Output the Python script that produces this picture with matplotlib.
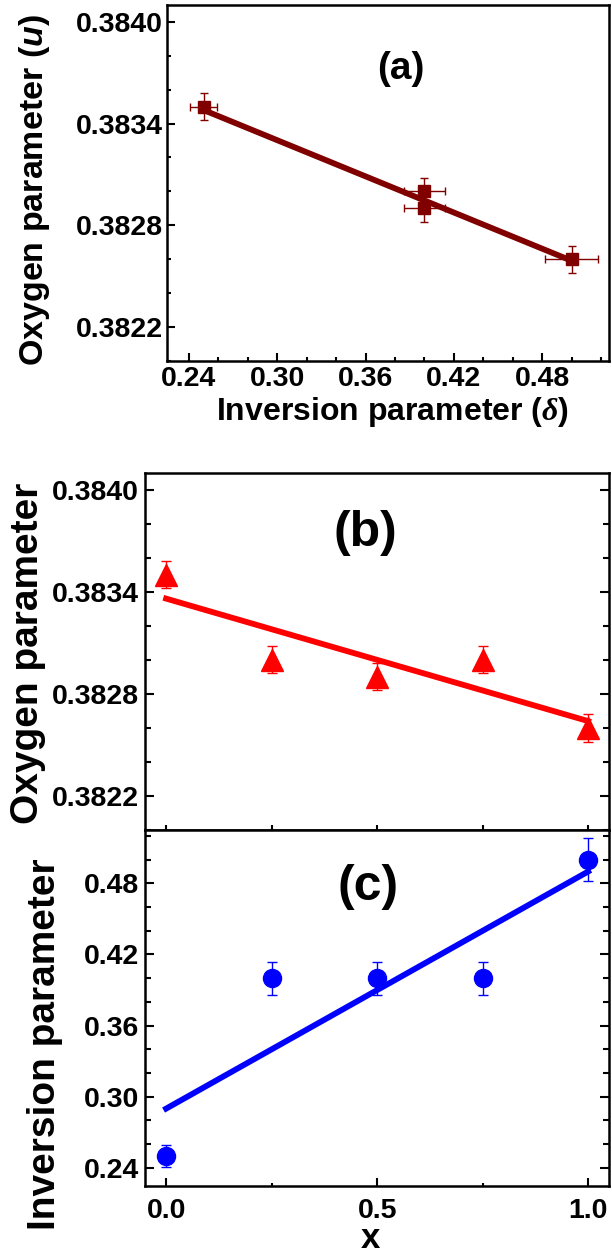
import matplotlib
matplotlib.use("Agg")
import matplotlib.pyplot as plt
from matplotlib.ticker import MultipleLocator, FixedLocator, FormatStrFormatter, NullFormatter

plt.rcParams['font.family'] = ['Liberation Sans', 'DejaVu Sans']
plt.rcParams['font.weight'] = 'bold'
plt.rcParams['mathtext.fontset'] = 'custom'
plt.rcParams['mathtext.it'] = 'Liberation Sans:italic:bold'
plt.rcParams['mathtext.sf'] = 'Liberation Serif:italic'
plt.rcParams['mathtext.rm'] = 'Liberation Sans:bold'

# ---- data ----
# panel (a): oxygen parameter vs inversion parameter
delta_a = [0.25, 0.40, 0.40, 0.50]
delta_err_a = [0.009, 0.014, 0.014, 0.018]
u_a = [0.38350, 0.38300, 0.38290, 0.38260]
u_err_a = [0.00008, 0.00008, 0.00008, 0.00008]
fit_delta_a = [0.25, 0.50]
fit_u_a = [0.38348, 0.38259]

# panel (b): oxygen parameter vs x
x_vals = [0.0, 0.25, 0.5, 0.75, 1.0]
u_b = [0.38350, 0.38300, 0.38290, 0.38300, 0.38260]
u_err_b = [0.00008, 0.00008, 0.00008, 0.00008, 0.00008]
fit_x = [0.0, 1.0]
fit_u_b = [0.38336, 0.38264]

# panel (c): inversion parameter vs x
delta_c = [0.25, 0.40, 0.40, 0.40, 0.50]
delta_err_c = [0.009, 0.014, 0.014, 0.014, 0.018]
fit_delta_c = [0.290, 0.490]

W, H = 612, 1256
fig = plt.figure(figsize=(W / 100, H / 100), dpi=100)

def add_ax(left, top, right, bottom):
    return fig.add_axes([left / W, 1 - bottom / H, (right - left) / W, (bottom - top) / H])

ax_a = add_ax(166.7, 5, 608.5, 360.7)
ax_b = add_ax(145, 472.7, 609.3, 830)
ax_c = add_ax(145, 830, 609.3, 1185.7)

for ax in (ax_a, ax_b, ax_c):
    for s in ax.spines.values():
        s.set_linewidth(1.8)

TICK_FS = 20.5

# ---- (a) ----
ax_a.plot(fit_delta_a, fit_u_a, color='#800000', lw=4.2, zorder=2)
ax_a.errorbar(delta_a, u_a, xerr=delta_err_a, yerr=u_err_a, fmt='s', color='#800000',
              ms=9, elinewidth=1.0, capsize=3, capthick=1.0, zorder=3)
ax_a.set_xlim(0.225, 0.525)
ax_a.set_ylim(0.3820, 0.3841)
ax_a.xaxis.set_major_locator(FixedLocator([0.24, 0.30, 0.36, 0.42, 0.48]))
ax_a.xaxis.set_minor_locator(MultipleLocator(0.02))
ax_a.xaxis.set_major_formatter(FormatStrFormatter('%.2f'))
ax_a.yaxis.set_major_locator(FixedLocator([0.3822, 0.3828, 0.3834, 0.3840]))
ax_a.yaxis.set_minor_locator(MultipleLocator(0.0002))
ax_a.yaxis.set_major_formatter(FormatStrFormatter('%.4f'))
ax_a.tick_params(which='both', direction='in', top=False, right=False, width=1.5,
                 labelsize=TICK_FS)
ax_a.tick_params(which='major', length=5.5)
ax_a.tick_params(which='minor', length=2.8)
ax_a.tick_params(axis='y', pad=3)
ax_a.tick_params(axis='x', pad=3.5)
ax_a.text(0.53, 0.82, '(a)', transform=ax_a.transAxes, fontsize=28, fontweight='bold',
          ha='center', va='center')
fig.text(35 / W, 1 - 190 / H, r'Oxygen parameter ($\mathit{u}$)', rotation=90,
         fontsize=24.5, fontweight='bold', ha='center', va='center')
fig.text(392 / W, 1 - 412 / H, r'Inversion parameter ($\mathsf{\delta}$)',
         fontsize=23, fontweight='bold', ha='center', va='center')

# ---- (b) ----
ax_b.plot(fit_x, fit_u_b, color='#ff0000', lw=4.2, zorder=2)
ax_b.errorbar(x_vals, u_b, yerr=u_err_b, fmt='^', color='#ff0000', ms=15.5,
              elinewidth=1.0, capsize=3.5, capthick=1.0, zorder=3)
ax_b.set_xlim(-0.05, 1.05)
ax_b.set_ylim(0.3820, 0.3841)
ax_b.xaxis.set_major_locator(MultipleLocator(0.25))
ax_b.xaxis.set_major_formatter(NullFormatter())
ax_b.yaxis.set_major_locator(FixedLocator([0.3822, 0.3828, 0.3834, 0.3840]))
ax_b.yaxis.set_minor_locator(MultipleLocator(0.0002))
ax_b.yaxis.set_major_formatter(FormatStrFormatter('%.4f'))
ax_b.tick_params(which='both', direction='in', left=True, right=True, top=False,
                 bottom=True, width=1.5, labelsize=TICK_FS)
ax_b.tick_params(axis='y', which='major', length=6.5, pad=4.5)
ax_b.tick_params(axis='y', which='minor', length=4)
ax_b.tick_params(axis='x', which='major', length=3.8)
ax_b.text(0.475, 0.83, '(b)', transform=ax_b.transAxes, fontsize=36, fontweight='bold',
          ha='center', va='center')
fig.text(28 / W, 1 - 653 / H, 'Oxygen parameter', rotation=90,
         fontsize=28, fontweight='bold', ha='center', va='center')

# ---- (c) ----
ax_c.plot(fit_x, fit_delta_c, color='#0000ff', lw=4.2, zorder=2)
ax_c.errorbar(x_vals, delta_c, yerr=delta_err_c, fmt='o', color='#0000ff', ms=13,
              elinewidth=1.0, capsize=3.5, capthick=1.0, zorder=3)
ax_c.set_xlim(-0.05, 1.05)
ax_c.set_ylim(0.225, 0.525)
ax_c.xaxis.set_major_locator(FixedLocator([0.0, 0.5, 1.0]))
ax_c.xaxis.set_minor_locator(FixedLocator([0.25, 0.75]))
ax_c.xaxis.set_major_formatter(FormatStrFormatter('%.1f'))
ax_c.yaxis.set_major_locator(FixedLocator([0.24, 0.30, 0.36, 0.42, 0.48]))
ax_c.yaxis.set_minor_locator(MultipleLocator(0.02))
ax_c.yaxis.set_major_formatter(FormatStrFormatter('%.2f'))
ax_c.tick_params(which='both', direction='in', left=True, right=True, top=False,
                 bottom=True, width=1.5, labelsize=TICK_FS)
ax_c.tick_params(axis='y', which='major', length=6.5, pad=4.5)
ax_c.tick_params(axis='y', which='minor', length=4)
ax_c.tick_params(axis='x', which='major', length=6, pad=8.5)
ax_c.tick_params(axis='x', which='minor', length=2.5)
ax_c.text(0.48, 0.84, '(c)', transform=ax_c.transAxes, fontsize=36, fontweight='bold',
          ha='center', va='center')
fig.text(45 / W, 1 - 1044 / H, 'Inversion parameter', rotation=90,
         fontsize=28, fontweight='bold', ha='center', va='center')
fig.text(370 / W, 1 - 1238 / H, 'x', fontsize=25, fontweight='bold',
         ha='center', va='center')

fig.savefig('out.png', dpi=100)
